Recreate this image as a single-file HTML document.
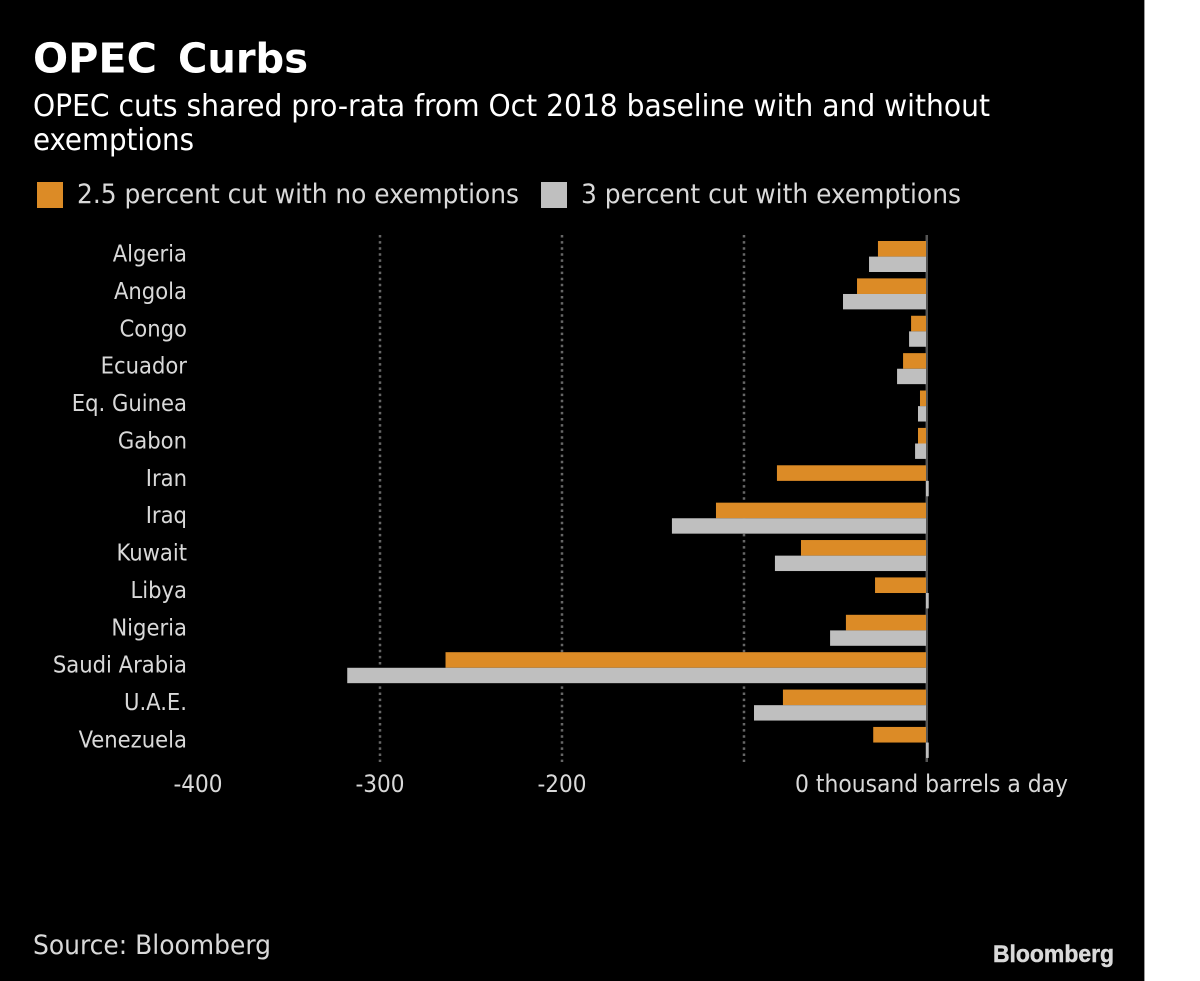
<!DOCTYPE html>
<html lang="en">
<head>
<meta charset="utf-8">
<title>OPEC Curbs</title>
<style>
html,body{margin:0;padding:0;background:#fff;width:1200px;height:981px;overflow:hidden}
svg{display:block}
text{font-family:"DejaVu Sans Condensed","Liberation Sans",sans-serif}
</style>
</head>
<body>
<svg id="chart" width="1200" height="981" viewBox="0 0 1200 981" xmlns="http://www.w3.org/2000/svg">
  <rect x="0" y="0" width="1144" height="981" fill="#000"/>
  <rect x="1144" y="0" width="1" height="981" fill="#999"/>
  <text y="72.5" font-size="41" font-weight="bold" fill="#fff" style='font-family:"DejaVu Sans","Liberation Sans",sans-serif'><tspan x="33" textLength="124" lengthAdjust="spacingAndGlyphs">OPEC</tspan> <tspan x="178" textLength="130" lengthAdjust="spacingAndGlyphs">Curbs</tspan></text>
  <text x="33" y="116" font-size="30" fill="#fff" textLength="957" lengthAdjust="spacingAndGlyphs">OPEC cuts shared pro-rata from Oct 2018 baseline with and without</text>
  <text x="33" y="150" font-size="30" fill="#fff" textLength="161" lengthAdjust="spacingAndGlyphs">exemptions</text>
  <rect x="37" y="182" width="26" height="26" fill="#dc8b26"/>
  <text x="77" y="203" font-size="27" fill="#d9d9d9" textLength="442" lengthAdjust="spacingAndGlyphs">2.5 percent cut with no exemptions</text>
  <rect x="541" y="182" width="26" height="26" fill="#bfbfbf"/>
  <text x="581" y="203" font-size="27" fill="#d9d9d9" textLength="380" lengthAdjust="spacingAndGlyphs">3 percent cut with exemptions</text>
  <g id="grid"></g>
  <g id="bars"></g>
  <g id="labels"></g>
  <g id="ticks"></g>
  <text x="795" y="792" font-size="24" fill="#d9d9d9" textLength="273" lengthAdjust="spacingAndGlyphs">0 thousand barrels a day</text>
  <text x="33" y="954" font-size="27" fill="#d9d9d9" textLength="238" lengthAdjust="spacingAndGlyphs">Source: Bloomberg</text>
  <text x="993" y="962" font-size="24" font-weight="bold" fill="#d9d9d9" stroke="#d9d9d9" stroke-width="0.5" textLength="121" lengthAdjust="spacingAndGlyphs" style='font-family:"Liberation Sans",sans-serif'>Bloomberg</text>
</svg>
<script>
const categories = ["Algeria","Angola","Congo","Ecuador","Eq. Guinea","Gabon","Iran","Iraq","Kuwait","Libya","Nigeria","Saudi Arabia","U.A.E.","Venezuela"];
const noExemptions = [-26.4,-37.9,-8.2,-12.6,-3.3,-4.4,-81.9,-115.4,-68.7,-28,-44,-264,-78.6,-29];
const withExemptions = [-31.3,-45.6,-9.3,-15.9,-4.4,-6,1.5,-139.6,-83,1.5,-52.7,-318,-94.5,1.5];
const gridValues = [-300,-200,-100];
const tickValues = [-400,-300,-200];

const SVGNS = "http://www.w3.org/2000/svg";
function xScale(v){ return 926 + v * 1.82; }
function rowTop(i){ return 241 + i * 37.38; }
function make(tag, parent){
  const el = document.createElementNS(SVGNS, tag);
  document.getElementById(parent).appendChild(el);
  return el;
}
function drawBar(v, y, h, color){
  const el = make("rect", "bars");
  const x0 = xScale(Math.min(v, 0));
  const x1 = xScale(Math.max(v, 0));
  el.setAttribute("x", x0);
  el.setAttribute("y", y);
  el.setAttribute("width", x1 - x0);
  el.setAttribute("height", h);
  el.setAttribute("fill", color);
  return el;
}

gridValues.forEach(function(v){
  const el = make("line", "grid");
  el.setAttribute("x1", xScale(v));
  el.setAttribute("x2", xScale(v));
  el.setAttribute("y1", 235);
  el.setAttribute("y2", 762);
  el.setAttribute("stroke", "#666");
  el.setAttribute("stroke-width", 2.5);
  el.setAttribute("stroke-dasharray", "2.5 3.6");
  
  
});

const zero = make("rect", "grid");
zero.setAttribute("x", xScale(0) - 0.5);
zero.setAttribute("y", 235);
zero.setAttribute("width", 2.5);
zero.setAttribute("height", 527);
zero.setAttribute("fill", "#555");



categories.forEach(function(name, i){
  const top = rowTop(i);
  const a = drawBar(noExemptions[i], top, 15.6, "#dc8b26");
  
  
  const b = drawBar(withExemptions[i], top + 15.6, 15.4, "#bfbfbf");
  
  
  const t = make("text", "labels");
  t.textContent = name;
  t.setAttribute("x", 187);
  t.setAttribute("y", top + 20.5);
  t.setAttribute("text-anchor", "end");
  t.setAttribute("font-size", 23.5);
  t.setAttribute("fill", "#d9d9d9");
  
  
});

tickValues.forEach(function(v){
  const t = make("text", "ticks");
  t.textContent = String(v);
  t.setAttribute("x", xScale(v));
  t.setAttribute("y", 792);
  t.setAttribute("text-anchor", "middle");
  t.setAttribute("font-size", 24);
  t.setAttribute("fill", "#d9d9d9");
  
  
});
</script>
</body>
</html>
